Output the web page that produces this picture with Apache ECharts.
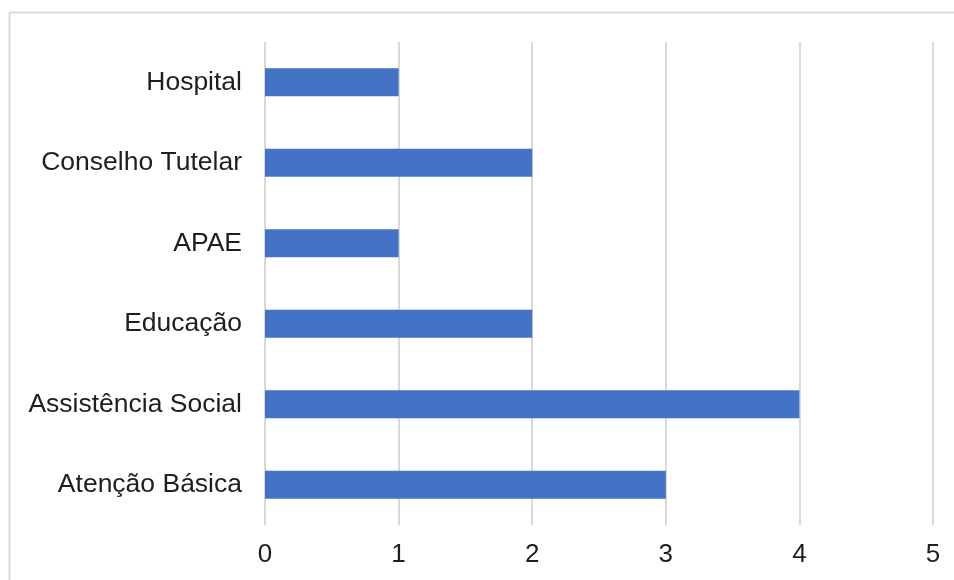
<!DOCTYPE html>
<html>
<head>
<meta charset="utf-8">
<script src="https://cdn.jsdelivr.net/npm/echarts@6/dist/echarts.min.js"></script>
<style>
html,body{margin:0;padding:0;background:#fff;}
#chart{width:954px;height:580px;}
</style>
</head>
<body>
<div id="chart"></div>
<script>
const categories = ['Atenção Básica', 'Assistência Social', 'Educação', 'APAE', 'Conselho Tutelar', 'Hospital'];
const values = [3, 4, 2, 1, 2, 1];
const xTicks = { min: 0, max: 5, interval: 1 };

const chart = echarts.init(document.getElementById('chart'));
chart.setOption({
  animation: false,
  backgroundColor: '#ffffff',
  graphic: [
    { type: 'line', shape: { x1: 9.5, y1: 12.5, x2: 960, y2: 12.5 }, style: { stroke: '#d9d9d9', lineWidth: 2 }, silent: true },
    { type: 'line', shape: { x1: 9.5, y1: 12.5, x2: 9.5, y2: 600 }, style: { stroke: '#d9d9d9', lineWidth: 2 }, silent: true }
  ],
  grid: { left: 265, right: 21, top: 42, bottom: 55, containLabel: false },
  xAxis: {
    type: 'value',
    min: xTicks.min, max: xTicks.max, interval: xTicks.interval,
    axisLine: { show: false },
    axisTick: { show: false },
    splitLine: { show: true, lineStyle: { color: '#d9d9d9', width: 2 } },
    axisLabel: { color: '#1e1e1e', fontSize: 26, fontFamily: 'Liberation Sans, Arial, sans-serif', margin: 17 }
  },
  yAxis: {
    type: 'category',
    data: categories,
    axisLine: { show: false },
    axisTick: { show: false },
    axisLabel: { color: '#1e1e1e', fontSize: 26.5, fontFamily: 'Liberation Sans, Arial, sans-serif', margin: 23 }
  },
  series: [{
    type: 'bar',
    data: values,
    barWidth: '35%',
    itemStyle: { color: '#4472C4' }
  }]
});
</script>
</body>
</html>
